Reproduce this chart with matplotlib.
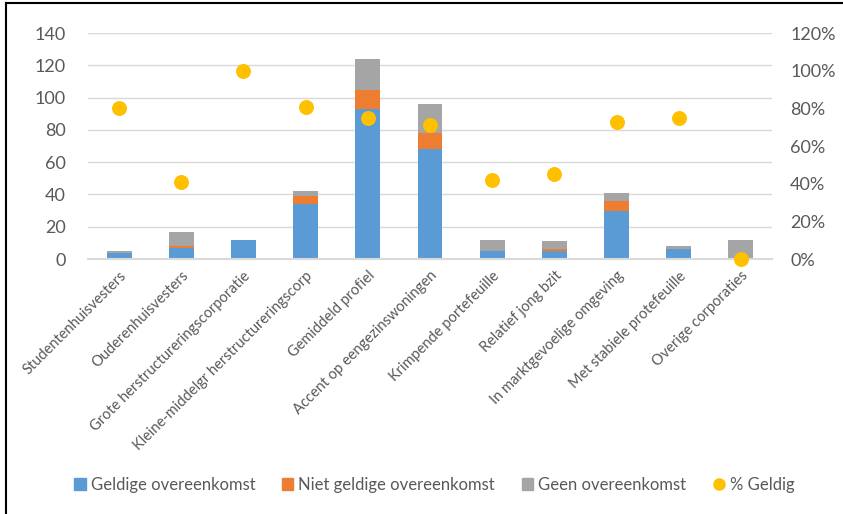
import matplotlib
matplotlib.use("Agg")
import matplotlib.pyplot as plt
from matplotlib.patches import Rectangle
from matplotlib.lines import Line2D
from matplotlib.ticker import FuncFormatter

categories = ["Studentenhuisvesters", "Ouderenhuisvesters", "Grote herstructureringscorporatie",
              "Kleine-middelgr herstructureringscorp", "Gemiddeld profiel",
              "Accent op eengezinswoningen", "Krimpende portefeuille", "Relatief jong bzit",
              "In marktgevoelige omgeving", "Met stabiele protefeuille", "Overige corporaties"]
geldig = [4, 7, 12, 34, 93, 68, 5, 5, 30, 6, 0]
niet_geldig = [0, 1, 0, 5, 12, 10, 0, 1, 6, 0, 0]
geen = [1, 9, 0, 3, 19, 18, 7, 5, 5, 2, 12]
pct_geldig = [0.80, 0.41, 1.00, 0.81, 0.75, 0.71, 0.42, 0.45, 0.73, 0.75, 0.0]

blue = "#5B9BD5"
orange = "#ED7D31"
grey = "#A5A5A5"
yellow = "#FFC000"
txt = "#595959"

plt.rcParams['font.family'] = ['Lato', 'DejaVu Sans']

fig = plt.figure(figsize=(8.43, 5.14), dpi=100)
ax = fig.add_axes([0.1044, 0.496, 0.8114, 0.4397])
x = list(range(len(categories)))
w = 0.4

ax.bar(x, geldig, w, color=blue, zorder=2)
bottom2 = geldig
ax.bar(x, niet_geldig, w, bottom=bottom2, color=orange, zorder=2)
bottom3 = [a + b for a, b in zip(geldig, niet_geldig)]
ax.bar(x, geen, w, bottom=bottom3, color=grey, zorder=2)

ax.set_xlim(-0.5, len(categories) - 0.5)
ax.set_ylim(0, 140)
ax.set_yticks(range(0, 141, 20))
ax.yaxis.grid(True, color="#D9D9D9", linewidth=1)
ax.set_axisbelow(True)
for s in ["top", "right", "left"]:
    ax.spines[s].set_visible(False)
ax.spines["bottom"].set_color("#D9D9D9")
ax.spines["bottom"].set_linewidth(1.5)
ax.tick_params(axis="both", length=0, colors=txt)
ax.tick_params(axis="y", labelsize=13, pad=16)
ax.set_xticks(x)
ax.set_xticklabels(categories, rotation=45, ha="right", rotation_mode="anchor",
                   fontsize=10.5, color=txt)
ax.tick_params(axis="x", pad=7)

ax2 = ax.twinx()
ax2.set_ylim(0, 1.2)
ax2.set_yticks([0, 0.2, 0.4, 0.6, 0.8, 1.0, 1.2])
ax2.yaxis.set_major_formatter(FuncFormatter(lambda v, p: "%d%%" % round(v * 100)))
ax2.scatter(x, pct_geldig, s=95, color=yellow, zorder=5, clip_on=False)
for s in ["top", "right", "left", "bottom"]:
    ax2.spines[s].set_visible(False)
ax2.tick_params(axis="y", length=0, colors=txt, labelsize=13, pad=13)

handles = [Rectangle((0, 0), 1, 1, color=blue), Rectangle((0, 0), 1, 1, color=orange),
           Rectangle((0, 0), 1, 1, color=grey),
           Line2D([], [], marker="o", linestyle="none", color=yellow, markersize=8)]
labels = ["Geldige overeenkomst", "Niet geldige overeenkomst", "Geen overeenkomst", "% Geldig"]
fig.legend(handles, labels, loc="center", bbox_to_anchor=(0.515, 0.057), ncol=4,
           frameon=False, fontsize=12, labelcolor=txt, handlelength=0.7,
           handleheight=0.7, handletextpad=0.3, columnspacing=1.6)

# frame: only top and left edges are visible in the original
fig.lines.append(Line2D([0.0075, 0.0075], [0, 0.994], transform=fig.transFigure,
                        color="black", linewidth=1.5))
fig.lines.append(Line2D([0.0075, 1], [0.994, 0.994], transform=fig.transFigure,
                        color="black", linewidth=1.5))

fig.savefig("out.png", dpi=100)
